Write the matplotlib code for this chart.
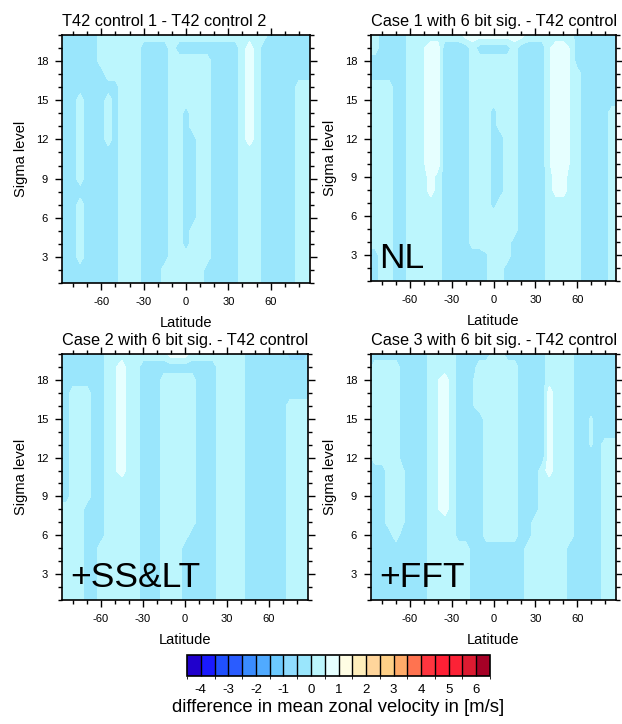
"""Zonal-mean zonal wind differences for reduced-precision T42 runs (4 panels)."""

import matplotlib
matplotlib.use("Agg")
import matplotlib as mpl
import matplotlib.pyplot as plt
import numpy as np
from matplotlib.colors import BoundaryNorm, ListedColormap
from matplotlib.ticker import MultipleLocator

plt.rcParams["font.family"] = ["Liberation Sans", "DejaVu Sans"]
plt.rcParams["axes.unicode_minus"] = False

FIG_W, FIG_H = 622, 724

# grid of the coded fields: latitude columns, sigma-level rows
LATS = np.arange(-90, 91, 5)
SIGMA = np.arange(1, 21)
LAT_LIMIT = 87.86

# value (m/s) behind each letter of the coded fields
CLASS_VALUES = {"b": -0.75, "d": -0.25, "f": -0.05, "e": 0.05,
                "l": 0.25, "u": 0.45, "w": 0.75}

# rows run from sigma 20 (top) down to sigma 1; groups of 30 degrees
CONTROL_DIFF = [
    "dddddd llllll llllll llllll llllll dddddd d",
    "dddddd llllll ddddld dddddd ddlwld dddddd d",
    "dddddd llllll ddddll lllldd ddlwld dddddd d",
    "dddddd dlllll ddddll lllldd ddlwld dddddd d",
    "dddddd dddlll ddddll lllldd ddlwld ddddll l",
    "dddldd dldlll ddddll lllldd ddlwld ddddll l",
    "dddldd dldlll ddddll dllldd ddlwld ddddll l",
    "dddldd dldlll ddddll dllldd ddlwld ddddll l",
    "dddldd dldlll ddddll ddlldd ddlwld ddddll l",
    "dddldd dddlll ddddll ddlldd ddllld ddddll l",
    "dddldd dddlll ddddll ddlldd ddllld ddddll l",
    "dddldd dddlll ddddll ddlldd ddllld ddddll l",
    "dddddd dddlll ddddll ddlldd ddllld ddddll l",
    "dddldd dddlll ddddll ddlldd ddllld ddddll l",
    "dddldd dddlll ddddll ddlldd ddllld ddddll l",
    "dddldd dddlll ddddll dllldd ddllld ddddll l",
    "dddldd dddlll ddddll dllldd ddllld ddddll l",
    "dddldd dddlll ddddll lllldd ddllld ddddll l",
    "dddddd dddlll dddlll lllddd ddllld ddddll l",
    "dddddd dddlll dddlll lllddd ddllld ddddll l",
]

CASE1_DIFF = [
    "lldddd llllll llwwww wwwwwl llllll dddddd d",
    "lldddd lluwwd dddldd dddldd dduwwu dddddd d",
    "dddddd lluwwd dddlll lllldd dduwwu dddddd d",
    "dddddd lluwwd dddlll lllldd dduwwu lddddd d",
    "lllldd lluwwd dddlll lllldd dduwwu lddddd d",
    "lllldd lluwwd dddlll lllldd dduwwu lddddd d",
    "lllldd lluwwd dddlll dllldd dduwwu lddddl l",
    "lllldd lluwwd dddlll dllldd dduwwu lddddl l",
    "lllldd lluwwd dddlll ddlldd dduwwu lddddl l",
    "lllldd lluwwd dddlll ddlldd dduwwu lddddl l",
    "lllldd lluwwd dddlll ddlldd dduwwu lddddl l",
    "lllldd lllwld dddlll ddlldd ddlwwl lddddl l",
    "lllldd lllwld dddlll ddlldd ddlwwl lddddl l",
    "lllldd llllld dddlll dllldd ddllll lddddl l",
    "lllldd llllld dddlll lllldd ddllll lddddl l",
    "lllldd llllld dddlll lllldd ddllll lddddl l",
    "lllldd llllld dddlll lllddd ddllll lddddl l",
    "ddlldd llllld dddddf lllddd ddllll lddddl l",
    "ddlldd llllld dddddf lldddd ddllll lddddl l",
    "ddlldd llllld dddddf lldddd ddllll lddddl l",
]

CASE2_DIFF = [
    "dddddd dlllll llllww wlllll lllddd dddbbb d",
    "dddddd dluwll dddddd dddddl lllddd dddddd d",
    "dddddd dluwll dddlll lldddl lllddd dddddd d",
    "ddllld dluwll dddlll lldddl lllddd dddddd d",
    "ddllld dluwll dddlll lldddl lllddd dddlll l",
    "ddllld dluwll dddlll lldddl lllddd dddlll l",
    "ddllld dluwll dddlll lldddl lllddd dddlll l",
    "ddllld dluwll dddlll lldddl lllddd dddlll l",
    "ddllld dluwll dddlll lldddl lllddd dddlll l",
    "ddllld dluwll dddlll lldddl lllddd dddlll l",
    "ddllld dlllll dddlll lldddl lllddd dddlll l",
    "ddllld dlllll dddlll lldddl lllddd dddlll l",
    "lllldd dlllll dddlll lldddl lllddd dddlll l",
    "lllldd dlllll dddlll lldddl lllddd dddlll l",
    "lllldd dlllll dddlll lddddl lllddd dddlll l",
    "lllldd llllll dddlll dddddl lllddd dddlll l",
    "lllldd llllll dddlll dddddl lllddd dddlll l",
    "lllldd llllll dddlll dddddl lllddd dddlll l",
    "lllldd llllll dddlll dddddl lllddd dddlll l",
    "lllldd llllll dddlll dddddl lllddd dddlll l",
]

CASE3_DIFF = [
    "dddddd dddlll lddddd lldddd ddllll dddddd d",
    "dlllld dddlll ldddll lllldd ddllll dddddd d",
    "dlllld dddluw lddfll lllldd ddllll dddddd d",
    "dlllld dddluw lddfll lllldd ddwlll dddddd d",
    "dlllld dddluw lddfll lllldd ddwlll dddddd d",
    "dlllld dddluw lddddl lllldd ddwlll ddeddd d",
    "dlllld dddluw lddddl lllldd ddwlll ddeddd d",
    "dlllld dddluw lddddl lllldd ddwlll ddedll l",
    "dlllld dddluw lddddl lllldd ddwlll ddddll l",
    "dddlle dddluw lddddl lllldd dlwlll ddddll l",
    "dddlle dddluw lddddl lllldd dlllll ddddll l",
    "dddlle dddluw lddddl lllldd dlllll ddddll l",
    "dddlle dddluw lddddl lllldd dlllll ddddll l",
    "dddlle dddlll lddddl lllldd llllll ddddll l",
    "ddddld dddlll lddddl lllldd llllll ddddll l",
    "dddddd dddlll lllddd dddddl llllld ddddll l",
    "dddddd dddlll lllddd dddddl llllld ddddll l",
    "dddddd dddlll lllddd dddddl llllld ddddll l",
    "dddddd dddlll lllddd dddddl llllld ddddll l",
    "dddddd dddlll lllddd dddddl llllld ddddll l",
]

TITLES = [
    "T42 control 1 - T42 control 2",
    "Case 1 with 6 bit sig. - T42 control",
    "Case 2 with 6 bit sig. - T42 control",
    "Case 3 with 6 bit sig. - T42 control",
]
TAGS = ["", "NL", "+SS&LT", "+FFT"]

BOUNDS = np.arange(-4.5, 6.51, 0.5)
CBAR_TICKS = np.arange(-4, 7, 1)
COLORS = [
    "#2000cc", "#1a1aff", "#2050ff", "#2a5cff", "#3a8cff", "#50aaff",
    "#6ccaff", "#8fdcff", "#9ae6fc", "#bcf6fd", "#e6ffff", "#fffde4",
    "#ffeebb", "#ffd59b", "#fed087", "#ffab69", "#ff7350", "#ff353f",
    "#ff2035", "#fc2236", "#dc1b31", "#a60126",
]


def decode(rows):
    """Turn the letter-coded rows into a (sigma, lat) array, sigma 1 first."""
    field = [[CLASS_VALUES[c] for c in row.replace(" ", "")] for row in rows]
    field = np.array(field[::-1])
    assert field.shape == (SIGMA.size, LATS.size)
    return field


def px_box(x0, y0, x1, y1):
    """Figure-fraction rectangle from pixel corners (origin top-left)."""
    return [x0 / FIG_W, 1 - y1 / FIG_H, (x1 - x0) / FIG_W, (y1 - y0) / FIG_H]


def main():
    fig = plt.figure(figsize=(FIG_W / 100, FIG_H / 100), dpi=100)
    cmap = ListedColormap(COLORS)
    norm = BoundaryNorm(BOUNDS, cmap.N)

    boxes = [(62, 35, 310, 283), (371, 35, 616, 281),
             (62, 354, 308, 600), (371, 354, 616, 600)]
    fields = [CONTROL_DIFF, CASE1_DIFF, CASE2_DIFF, CASE3_DIFF]

    for box, rows, title, tag in zip(boxes, fields, TITLES, TAGS):
        ax = fig.add_axes(px_box(*box))
        ax.contourf(LATS, SIGMA, decode(rows), levels=BOUNDS, cmap=cmap, norm=norm)
        ax.set_xlim(-LAT_LIMIT, LAT_LIMIT)
        ax.set_ylim(1, 20)
        ax.xaxis.set_major_locator(MultipleLocator(30))
        ax.xaxis.set_minor_locator(MultipleLocator(10))
        ax.yaxis.set_major_locator(MultipleLocator(3))
        ax.yaxis.set_minor_locator(MultipleLocator(1))
        ax.set_yticks([3, 6, 9, 12, 15, 18])
        ax.tick_params(which="both", direction="out", top=True, right=True,
                       width=1.0, labelsize=8, pad=5)
        ax.tick_params(which="major", length=5)
        ax.tick_params(which="minor", length=2.8)
        for spine in ax.spines.values():
            spine.set_linewidth(1.2)

        x0, y0, x1, y1 = box
        h = y1 - y0
        ax.text(0, 1 + 9 / h, title, transform=ax.transAxes, fontsize=11.7,
                ha="left", va="baseline")
        if tag:
            ax.text(8 / (x1 - x0), 13 / h, tag, transform=ax.transAxes,
                    fontsize=25.5, ha="left", va="baseline")
        fig.text((x0 - 41) / FIG_W, 1 - (y0 + y1) / 2 / FIG_H, "Sigma level",
                 rotation=90, fontsize=10.5, ha="center", va="center")
        fig.text((x0 + x1) / 2 / FIG_W, 1 - (y1 + 40) / FIG_H, "Latitude",
                 fontsize=10.5, ha="center", va="center")

    cax = fig.add_axes(px_box(187, 655, 490, 676))
    cb = mpl.colorbar.ColorbarBase(cax, cmap=cmap, norm=norm, boundaries=BOUNDS,
                                   ticks=CBAR_TICKS, orientation="horizontal",
                                   drawedges=True)
    cb.outline.set_linewidth(1.2)
    cb.dividers.set_linewidth(1.0)
    cax.tick_params(length=0, labelsize=9.5, pad=6)
    cax.set_xticklabels([str(t) for t in CBAR_TICKS])
    fig.text(338 / FIG_W, 1 - 708 / FIG_H,
             "difference in mean zonal velocity in [m/s]",
             fontsize=13.3, ha="center", va="center")

    fig.savefig("out.png", dpi=100)
    plt.close(fig)


if __name__ == "__main__":
    main()
